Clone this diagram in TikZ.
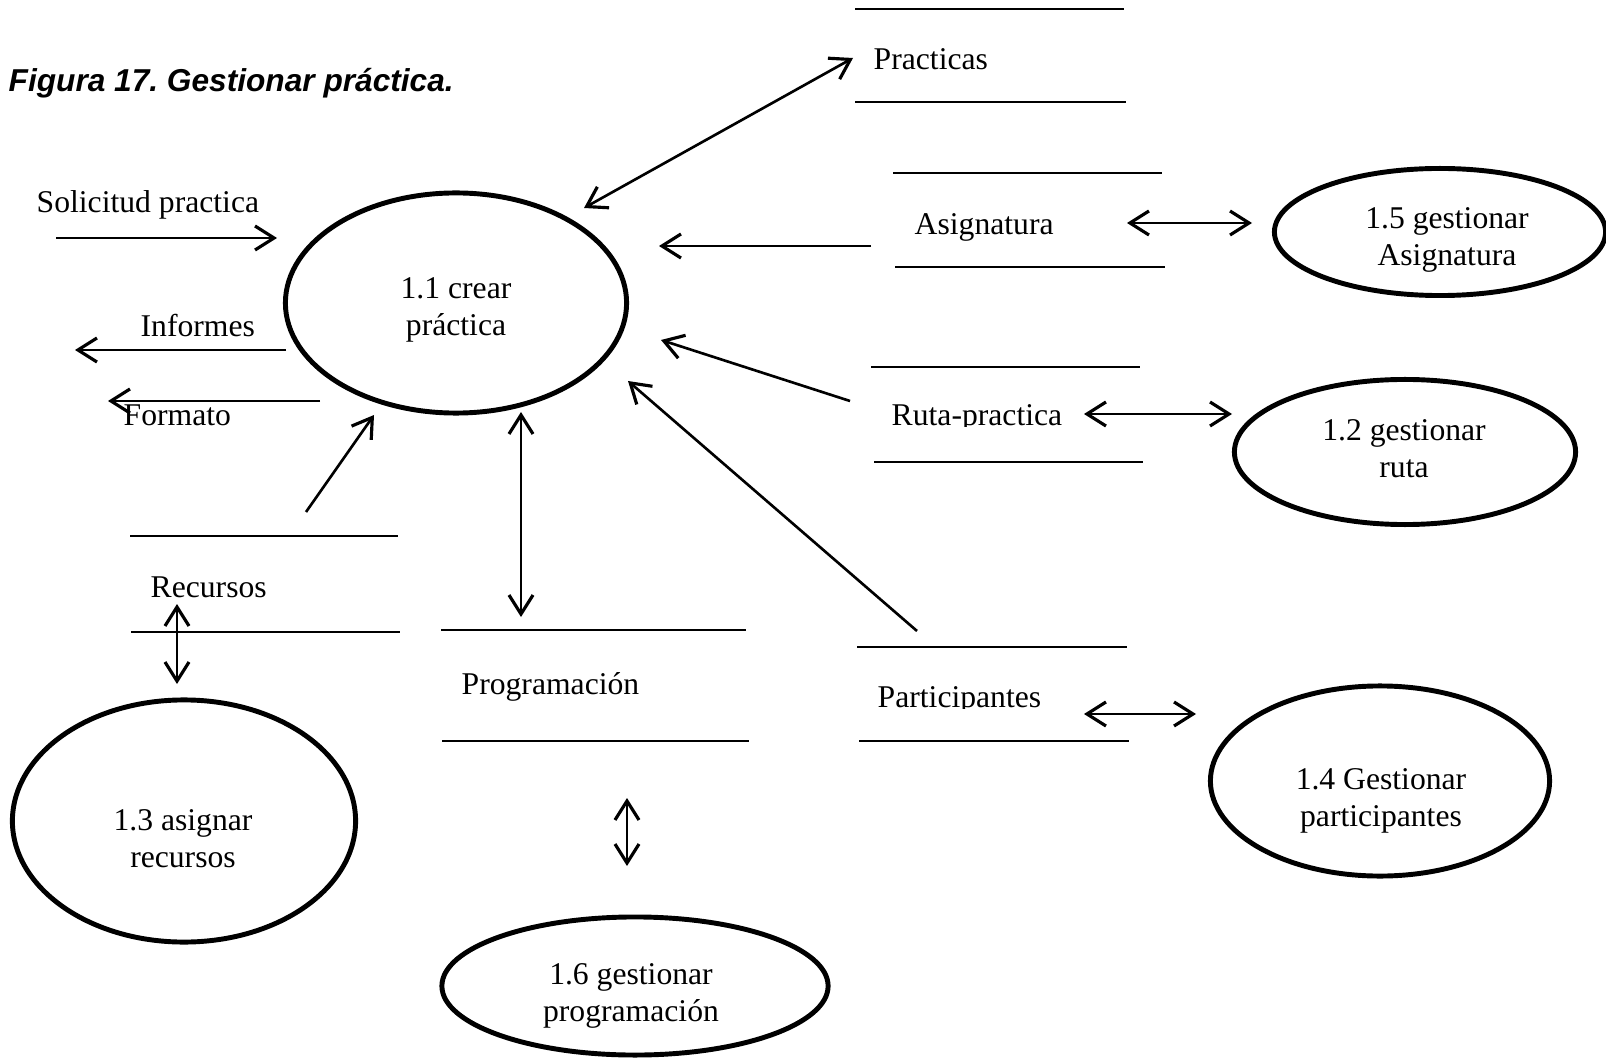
\documentclass[tikz,border=0pt]{standalone}
\usepackage{fontspec}
\setmainfont{Liberation Serif}
\newfontfamily\titlefont{Liberation Sans}
\usetikzlibrary{arrows.meta,shapes.geometric}
\frenchspacing

\begin{document}
\begin{tikzpicture}[x=0.01cm,y=-0.01cm,
  every node/.style={font=\fontsize{9}{10.5}\selectfont, inner sep=0pt},
  proc/.style={draw, ellipse, line width=1.4pt},
  ptext/.style={align=center},
  lbl/.style={anchor=west},
  storeline/.style={line width=0.7pt},
  flow/.style={line width=0.75pt, -{Straight Barb[length=1.9mm,width=2.4mm,line width=0.9pt]}},
  flow2/.style={line width=0.75pt, {Straight Barb[length=1.9mm,width=2.4mm,line width=0.9pt]}-{Straight Barb[length=1.9mm,width=2.4mm,line width=0.9pt]}}
]
\useasboundingbox (0,0) rectangle (1606,1058);

% caption
\node[anchor=west, font=\titlefont\bfseries\itshape\fontsize{9}{11}\selectfont] (title) at (8,83) {Figura 17. Gestionar práctica.};

% processes (outline) and their names
\node[proc, minimum width=3.41cm, minimum height=2.20cm] (p11) at (456,303) {};
\node[ptext] (t11) at (456,310) {1.1 crear\\práctica};
\node[proc, minimum width=3.31cm, minimum height=1.27cm] (p15) at (1440,232) {};
\node[ptext] (t15) at (1447,240) {1.5 gestionar\\Asignatura};
\node[proc, minimum width=3.41cm, minimum height=1.45cm] (p12) at (1405,452) {};
\node[ptext] (t12) at (1404,449) {1.2 gestionar\\ruta};
\node[proc, minimum width=3.39cm, minimum height=1.90cm] (p14) at (1380,781) {};
\node[ptext] (t14) at (1381,801) {1.4 Gestionar\\participantes};
\node[proc, minimum width=3.43cm, minimum height=2.42cm] (p13) at (184,821) {};
\node[ptext] (t13) at (183,839) {1.3 asignar\\recursos};
\node[proc, minimum width=3.86cm, minimum height=1.38cm] (p16) at (635,986) {};
\node[ptext] (t16) at (631,996) {1.6 gestionar\\programación};

% data stores: label between two horizontal lines
\node[lbl] (sPract) at (873,59) {Practicas};
\draw[storeline] (855,9) -- (1124,9);
\draw[storeline] (855,102) -- (1126,102);

\node[lbl] (sAsig) at (914,227) {Asignatura};
\draw[storeline] (893,173) -- (1162,173);
\draw[storeline] (895,267) -- (1165,267);

\begin{scope}
  \clip (860,380) rectangle (1070,427);
  \node[lbl] (sRuta) at (891,418) {Ruta-practica};
\end{scope}
\draw[storeline] (871,367) -- (1140,367);
\draw[storeline] (874,462) -- (1143,462);

\begin{scope}
  \clip (860,670) rectangle (1060,708);
  \node[lbl] (sPart) at (877,700) {Participantes};
\end{scope}
\draw[storeline] (857,647) -- (1127,647);
\draw[storeline] (859,741) -- (1129,741);

\node[lbl] (sRec) at (150,587) {Recursos};
\draw[storeline] (130,536) -- (398,536);
\draw[storeline] (131,632) -- (400,632);

\node[lbl] (sProg) at (461,687) {Programación};
\draw[storeline] (441,630) -- (746,630);
\draw[storeline] (442,741) -- (749,741);

% external flows
\node[lbl] (tSol) at (36,205) {Solicitud practica};
\node[lbl] (tInf) at (140,326) {Informes};
\node[lbl] (tFor) at (123,415) {Formato};

% connector end points
\coordinate (solA) at (56,238);   \coordinate (solB) at (277,238);
\coordinate (infA) at (286,350);  \coordinate (infB) at (75,350);
\coordinate (forA) at (320,401);  \coordinate (forB) at (108,401);
\coordinate (recA) at (306,512);  \coordinate (recB) at (374,415);
\coordinate (prA) at (584,208);   \coordinate (prB) at (853,58);
\coordinate (asA) at (871,246);   \coordinate (asB) at (659,246);
\coordinate (asC) at (1127,223);  \coordinate (asD) at (1252,223);
\coordinate (ruA) at (850,401);   \coordinate (ruB) at (661,340);
\coordinate (ruC) at (1084,414);  \coordinate (ruD) at (1232,414);
\coordinate (paA) at (917,631);   \coordinate (paB) at (628,381);
\coordinate (paC) at (1084,714);  \coordinate (paD) at (1196,714);
\coordinate (reC) at (177,604);   \coordinate (reD) at (177,684);
\coordinate (pgA) at (521,412);   \coordinate (pgB) at (521,617);
\coordinate (pgC) at (627,798);   \coordinate (pgD) at (627,866);

\draw[flow] (solA) -- (solB);
\draw[flow] (infA) -- (infB);
\draw[flow] (forA) -- (forB);
\draw[flow] (recA) -- (recB);
\draw[flow2] (prA) -- (prB);
\draw[flow] (asA) -- (asB);
\draw[flow2] (asC) -- (asD);
\draw[flow] (ruA) -- (ruB);
\draw[flow2] (ruC) -- (ruD);
\draw[flow] (paA) -- (paB);
\draw[flow2] (paC) -- (paD);
\draw[flow2] (reC) -- (reD);
\draw[flow2] (pgA) -- (pgB);
\draw[flow2] (pgC) -- (pgD);
\end{tikzpicture}
\end{document}
